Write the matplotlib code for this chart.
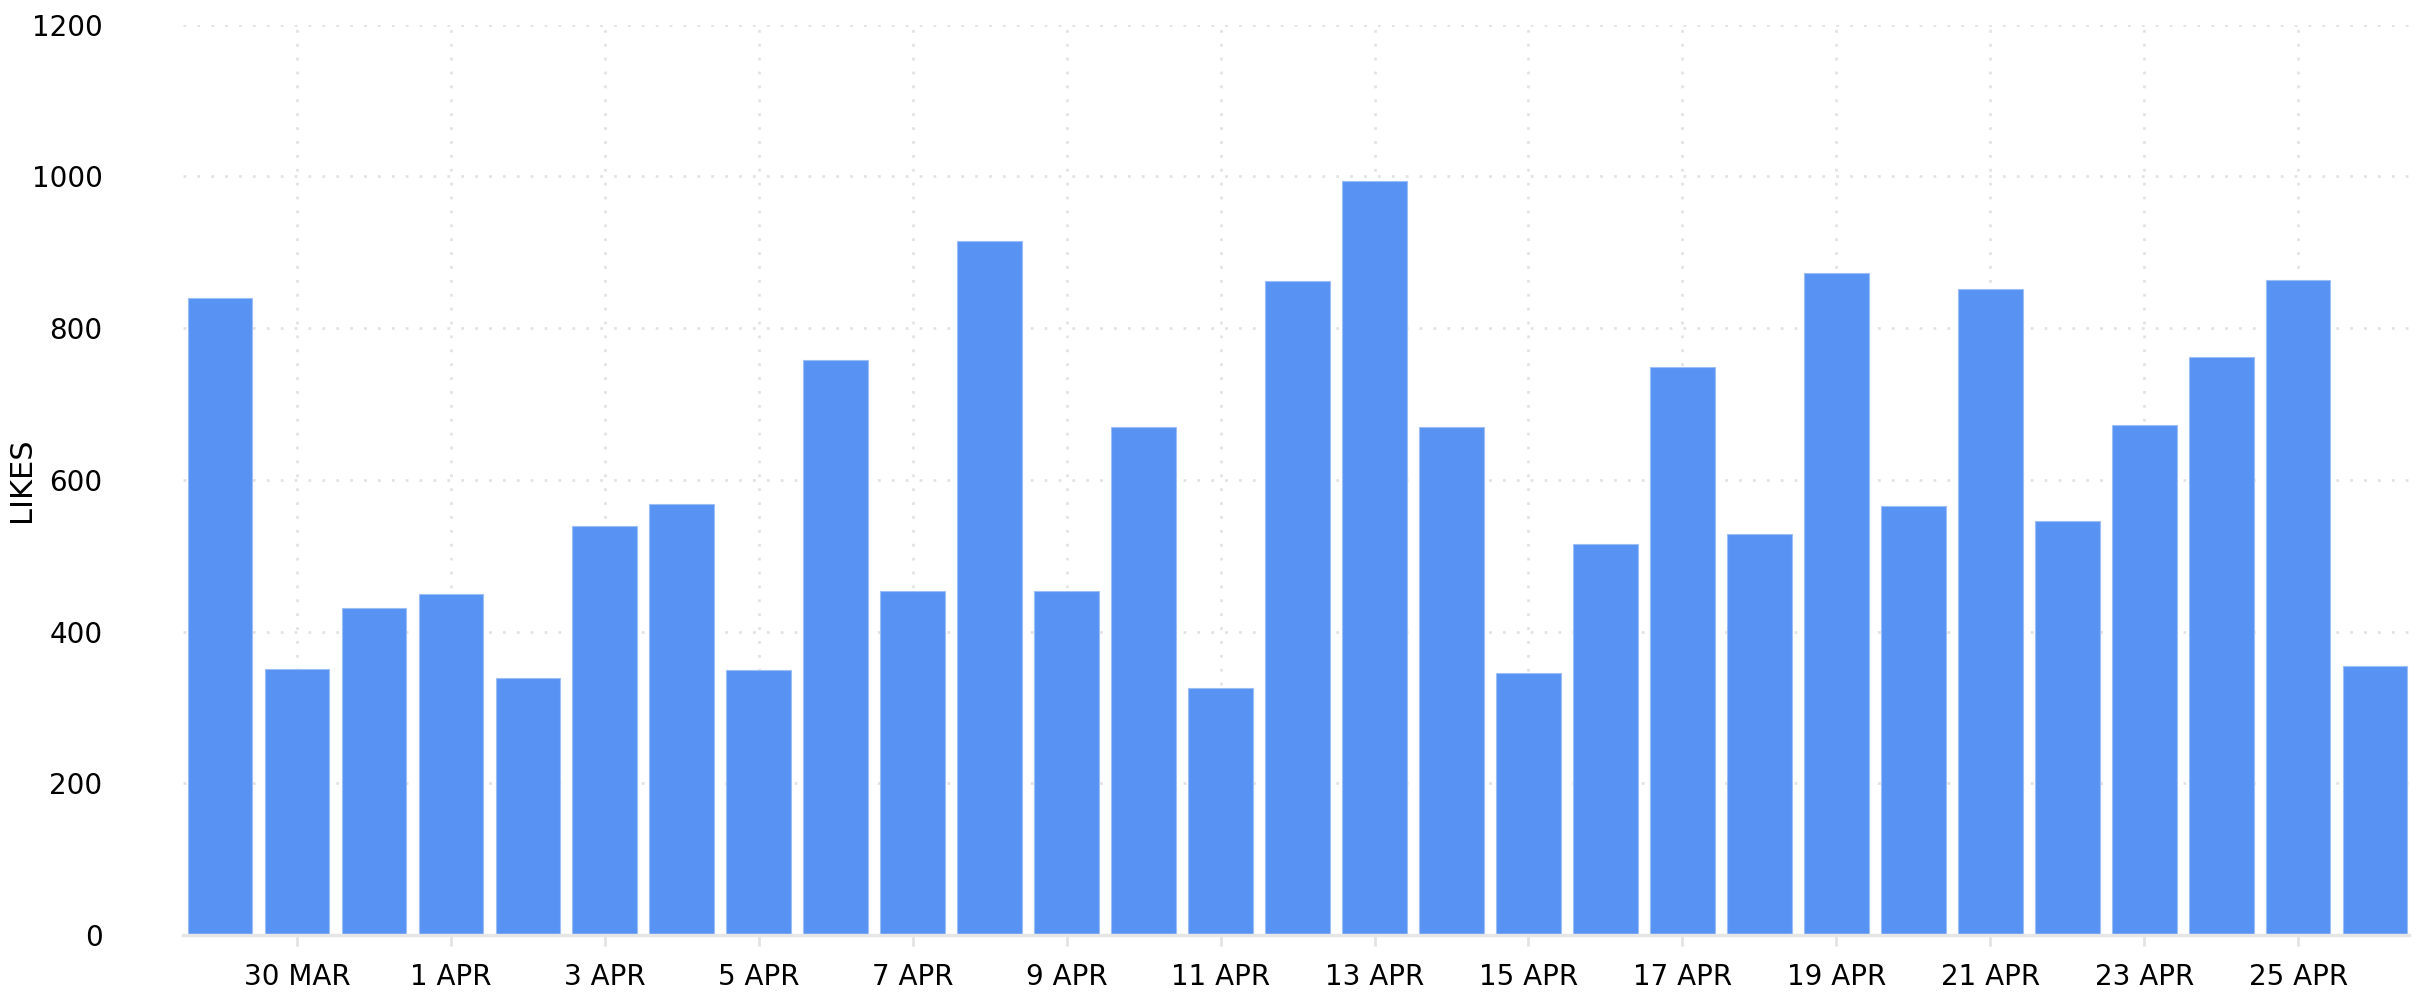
import numpy as np
import matplotlib
matplotlib.use("Agg")
import matplotlib.pyplot as plt

days = ["29 MAR", "30 MAR", "31 MAR", "1 APR", "2 APR", "3 APR", "4 APR", "5 APR",
        "6 APR", "7 APR", "8 APR", "9 APR", "10 APR", "11 APR", "12 APR", "13 APR",
        "14 APR", "15 APR", "16 APR", "17 APR", "18 APR", "19 APR", "20 APR", "21 APR",
        "22 APR", "23 APR", "24 APR", "25 APR", "26 APR"]
likes = [840, 351, 431, 450, 339, 539, 568, 349,
         758, 454, 915, 454, 670, 325, 862, 994,
         670, 345, 516, 749, 529, 873, 565, 851,
         546, 672, 762, 864, 355]
y_ticks = [0, 200, 400, 600, 800, 1000, 1200]

bar_color = "#5893f3"
grid_color = "#e3e3e3"

fig = plt.figure(figsize=(24.25, 10), dpi=100)
ax = fig.add_axes([183/2425, 0.065, (2409-183)/2425, 0.9753-0.065])

x = np.arange(len(days))
ax.bar(x, likes, width=0.84, color=bar_color, edgecolor="#9dbdf5", linewidth=0.8, zorder=2)

ax.set_xlim(-0.48, len(days) - 0.56)
ax.set_ylim(0, 1200)

ax.set_xticks(x[1::2])
ax.set_xticklabels(days[1::2], fontsize=20)
ax.set_yticks(y_ticks)
ax.set_yticklabels([str(v) for v in y_ticks], fontsize=20)

ax.tick_params(axis="x", length=8, width=2, color=grid_color, pad=12)
ax.tick_params(axis="y", length=0, pad=58)

ax.set_axisbelow(True)
ax.grid(True, color=grid_color, linestyle=(0, (1, 4)), linewidth=2)

for s in ["top", "right", "left"]:
    ax.spines[s].set_visible(False)
ax.spines["bottom"].set_color("#e6e6e6")
ax.spines["bottom"].set_linewidth(2.5)

ax.set_ylabel("LIKES", fontsize=22)
ax.yaxis.set_label_coords(-(183-36)/2226, 0.5)

fig.savefig("out.png", dpi=100)
